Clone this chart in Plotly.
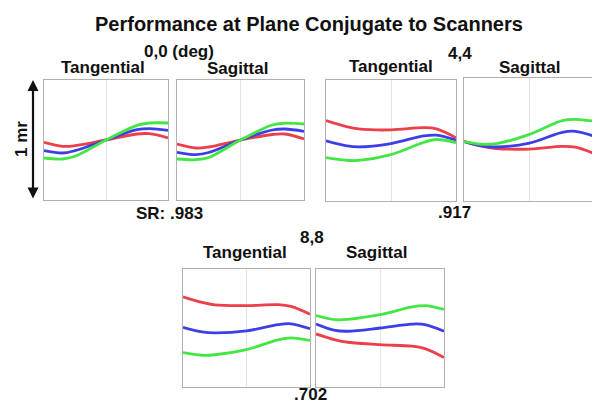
import plotly.graph_objects as go

# sample positions across each pupil plot (0 = left edge, 1 = right edge)
xs = [0, 0.15, 0.25, 0.5, 0.75, 0.85, 1]

# ray fan values, panel half-height = 60
t00_red = [-2.3, -6.3, -5.7, 0, 6.0, 6.3, 2.0]
t00_blue = [-10.7, -13.0, -10.7, 0, 10.3, 11.3, 9.7]
t00_green = [-18.0, -19.0, -16.3, 0, 14.7, 17.0, 17.0]

s00_red = [-4.0, -8.0, -7.0, 0, 5.5, 6.0, 1.0]
s00_blue = [-12.3, -14.7, -12.5, 0, 10.0, 11.0, 8.7]
s00_green = [-19.0, -19.7, -17.5, 0, 15.0, 16.8, 16.0]

t44_red = [19.7, 14.0, 11.5, 10.5, 12.7, 11.5, 2.7]
t44_blue = [-0.3, -5.0, -6.3, -3.0, 4.5, 5.3, 0.3]
t44_green = [-17.0, -19.5, -19.7, -14.0, -2.0, 1.0, -2.0]

s44_red = [-2.0, -7.0, -8.8, -9.3, -6.7, -7.5, -14.0]
s44_blue = [-2.0, -6.5, -7.3, -3.5, 7.0, 8.0, 3.0]
s44_green = [-2.0, -4.7, -4.0, 5.0, 18.5, 19.7, 17.7]

t88_red = [31.7, 26.0, 23.5, 22.8, 23.8, 22.0, 14.0]
t88_blue = [0.7, -4.0, -5.0, -3.0, 3.5, 4.3, -0.7]
t88_green = [-25.0, -27.7, -27.2, -22.0, -12.0, -10.0, -12.7]

s88_red = [-6.0, -12.0, -14.5, -17.0, -18.5, -21.0, -30.0]
s88_blue = [4.0, -2.5, -3.3, 0, 4.0, 3.5, -3.3]
s88_green = [12.7, 8.5, 8.8, 13.5, 21.5, 22.7, 19.0]

panels = [
    (t00_red, t00_blue, t00_green),
    (s00_red, s00_blue, s00_green),
    (t44_red, t44_blue, t44_green),
    (s44_red, s44_blue, s44_green),
    (t88_red, t88_blue, t88_green),
    (s88_red, s88_blue, s88_green),
]

W, H = 600, 403
# pixel boxes (left, right, top, bottom)
boxes = [
    (36, 160, 72, 192),
    (169, 296, 72, 192),
    (318, 448, 72, 193),
    (456, 587, 70, 193),
    (175, 302, 261, 379),
    (308, 436, 261, 379),
]

colors = ["#eb4049", "#3e3ee6", "#44e644"]

fig = go.Figure()
layout = {}
for i, (curves, box) in enumerate(zip(panels, boxes)):
    n = "" if i == 0 else str(i + 1)
    l, r, t, b = box
    for ys, c in zip(curves, colors):
        fig.add_trace(go.Scatter(
            x=xs, y=ys, mode="lines", xaxis="x" + n, yaxis="y" + n,
            line=dict(color=c, width=2.8, shape="spline", smoothing=1.0),
            showlegend=False, hoverinfo="skip"))
    layout["xaxis" + n] = dict(
        domain=[l / W, r / W], anchor="y" + n, range=[0, 1],
        showline=True, mirror=True, linecolor="#b0b0b0", linewidth=1.3,
        showgrid=True, gridcolor="#e4e4e4", gridwidth=1, tickvals=[0.5],
        showticklabels=False, ticks="", zeroline=False, fixedrange=True)
    layout["yaxis" + n] = dict(
        domain=[1 - b / H, 1 - t / H], anchor="x" + n, range=[-60, 60],
        showline=True, mirror=True, linecolor="#b0b0b0", linewidth=1.3,
        showgrid=False, showticklabels=False, ticks="", zeroline=False,
        fixedrange=True)

fig.update_layout(**layout)

font = "Liberation Sans, Arial, sans-serif"
labels = [
    ("<b>Performance at Plane Conjugate to Scanners</b>", 301, 16, 20),
    ("<b>0,0 (deg)</b>", 171, 43, 17),
    ("<b>Tangential</b>", 95, 60, 17),
    ("<b>Sagittal</b>", 229, 61, 17),
    ("<b>4,4</b>", 452, 45, 17),
    ("<b>Tangential</b>", 383, 59, 17),
    ("<b>Sagittal</b>", 521, 60, 17),
    ("<b>SR: .983</b>", 161, 205, 17),
    ("<b>.917</b>", 446, 204, 17),
    ("<b>8,8</b>", 304, 230, 17),
    ("<b>Tangential</b>", 237, 245, 17),
    ("<b>Sagittal</b>", 368, 245, 17),
    ("<b>.702</b>", 302, 386, 17),
]
for text, x, y, size in labels:
    fig.add_annotation(text=text, x=x / W, y=1 - y / H, xref="paper", yref="paper",
                       showarrow=False, xanchor="center", yanchor="middle",
                       borderpad=0, font=dict(family=font, size=size, color="#111111"))

# double headed scale arrow (tail offset in pixels)
fig.add_annotation(x=25 / W, y=1 - 72 / H, xref="paper", yref="paper",
                   ax=0, ay=120, showarrow=True, arrowhead=2,
                   arrowside="end+start", arrowsize=1, arrowwidth=2.2,
                   arrowcolor="#111111", text="")
fig.add_annotation(text="<b>1 mr</b>", x=13 / W, y=1 - 131 / H, xref="paper", yref="paper",
                   showarrow=False, textangle=-90, xanchor="center", yanchor="middle",
                   font=dict(family=font, size=17, color="#111111"))

fig.update_layout(width=W, height=H, margin=dict(l=0, r=0, t=0, b=0),
                  paper_bgcolor="white", plot_bgcolor="white")

fig.write_html("out.html")
